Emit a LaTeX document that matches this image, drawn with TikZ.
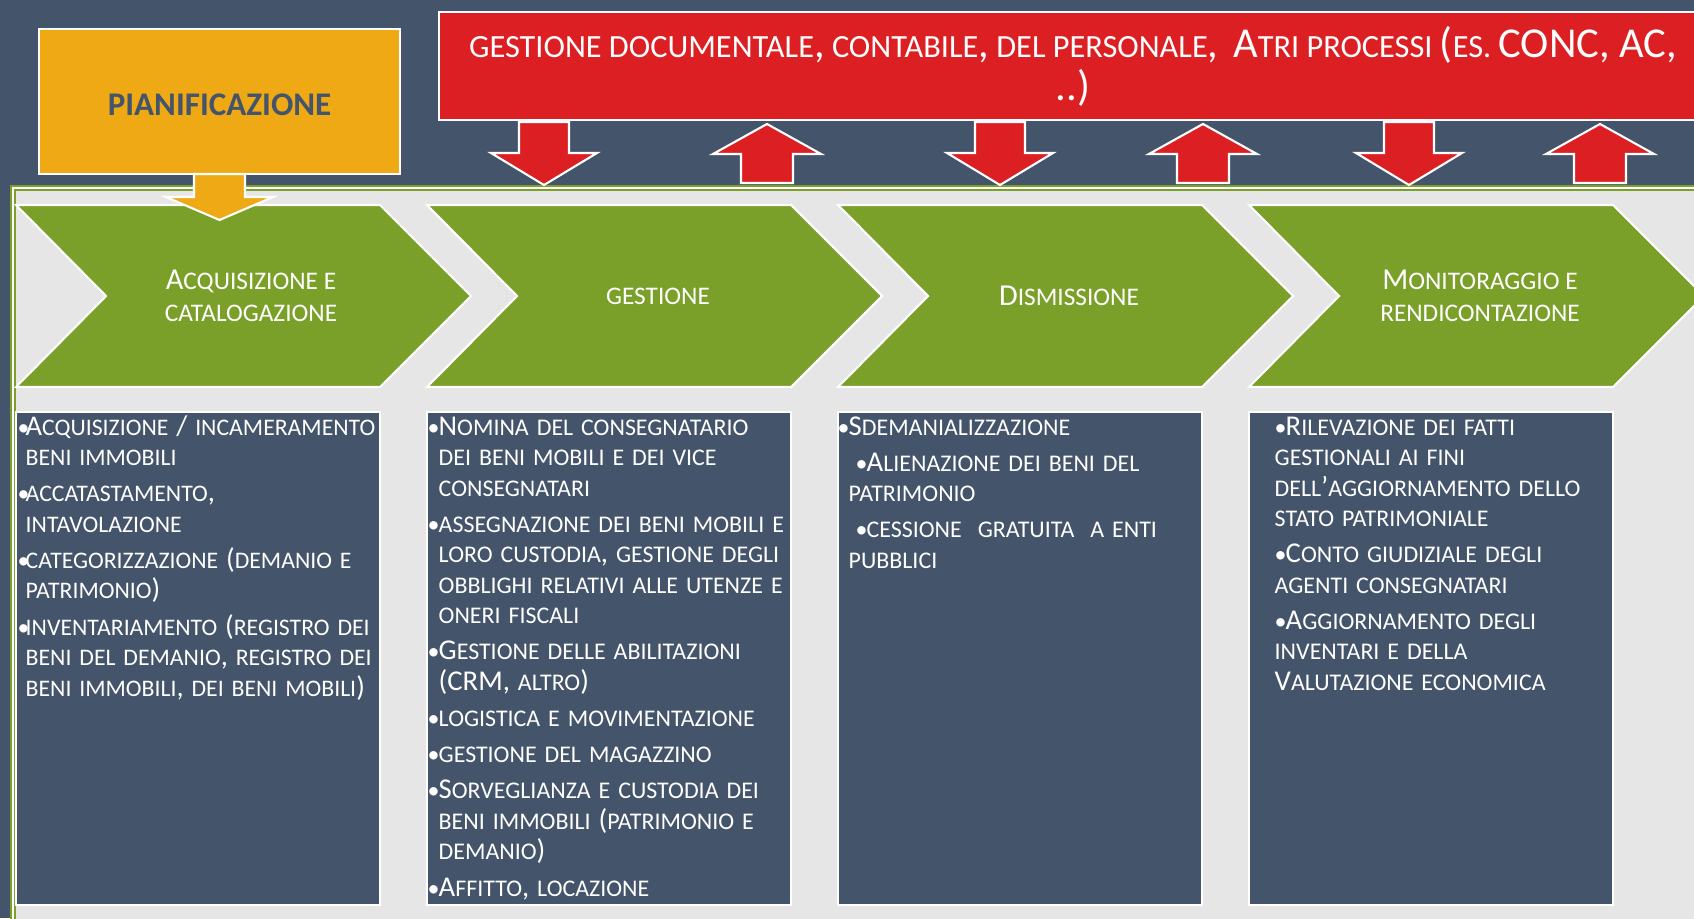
\documentclass[tikz,border=0pt]{standalone}
\usepackage{fontspec}
\setmainfont{Carlito}
\definecolor{slate}{HTML}{44546A}
\definecolor{paper}{HTML}{E7E6E6}
\definecolor{leaf}{HTML}{7AA02A}
\definecolor{amber}{HTML}{EFA915}
\definecolor{scarlet}{HTML}{DC1F22}
% big letters for the small-caps texts
\makeatletter
\newcommand\Kap[1]{{\fontsize{\fpeval{1.2*\f@size}}{\f@baselineskip}\selectfont #1}}
\newcommand\KapR[1]{{\fontsize{\fpeval{1.316*\f@size}}{\f@baselineskip}\selectfont #1}}
\makeatother
% bullets
\newlength\bw
\setlength\bw{0.11cm}
\newcommand\bul[1][0pt]{\hspace*{#1}\makebox[\bw][l]{•}}
\newcommand\itm[1][0pt]{\par\noindent\bul[#1]}
\newcommand\nl{\\\hspace*{\bw}}
\begin{document}
\begin{tikzpicture}[x=0.01cm,y=-0.01cm,
    wbord/.style={draw=white,line width=0.6pt,line join=miter},
    phase/.style={wbord,fill=leaf},
    phasetxt/.style={text=white,align=center,inner sep=0pt,font=\fontsize{7.2}{9.1}\selectfont},
    act/.style={wbord,fill=slate},
    acttxt/.style={text=white,anchor=base west,inner sep=0pt,text width=3.9cm,align=left,
        font=\fontsize{6.8}{8.68}\selectfont,execute at begin node=\setlength\parskip{1.6pt}},
    blockarrow/.style={wbord,fill=scarlet}]
    % Page
    \path[use as bounding box] (0,0) rectangle (1694,918);
    \clip (0,0) rectangle (1694,918);
    \fill[slate] (0,0) rectangle (1694,918);
    % Process frame
    \fill[paper] (13,187.5) rectangle (1720,940);
    \draw[leaf,line width=0.02cm,double=white,double distance=0.02cm] (13,940) -- (13,187.5) -- (1720,187.5);
    % Phases
    \foreach \i/\lab in {0/{\Kap{A}CQUISIZIONE E\\CATALOGAZIONE},1/{GESTIONE},2/{\Kap{D}ISMISSIONE},3/{\Kap{M}ONITORAGGIO E\\RENDICONTAZIONE}}{
        \filldraw[phase] (16+411*\i,205) -- ++(364,0) -- ++(91,91) -- ++(-91,91) -- ++(-364,0) -- ++(90,-91) -- cycle;
        \node[phasetxt] (ph\i) at ({247+411*\i+ifthenelse(\i==0,4,0)},296) {\lab};
    }
    % Activity boxes
    \foreach \i in {0,...,3}
        \filldraw[act] (16+411*\i,412) rectangle ++(364,493);
    \node[acttxt,font=\fontsize{6.75}{8.68}\selectfont] (act1) at (17,435) {\setlength\bw{0.08cm}%
        \bul\Kap{A}CQUISIZIONE \Kap{/} INCAMERAMENTO\nl BENI IMMOBILI
        \itm ACCATASTAMENTO\Kap{,}\nl INTAVOLAZIONE
        \itm CATEGORIZZAZIONE \Kap{(}DEMANIO E\nl PATRIMONIO\Kap{)}
        \itm INVENTARIAMENTO \Kap{(}REGISTRO DEI\nl BENI DEL DEMANIO\Kap{,} REGISTRO DEI\nl BENI IMMOBILI\Kap{,} DEI BENI MOBILI\Kap{)}};
    \node[acttxt] (act2) at (427,435) {\bul\Kap{N}OMINA DEL CONSEGNATARIO\nl DEI BENI MOBILI E DEI VICE\nl CONSEGNATARI
        \itm ASSEGNAZIONE DEI BENI MOBILI E\nl LORO CUSTODIA\Kap{,} GESTIONE DEGLI\nl OBBLIGHI RELATIVI ALLE UTENZE E\nl ONERI FISCALI
        \itm\Kap{G}ESTIONE DELLE ABILITAZIONI\nl\Kap{(CRM,} ALTRO\Kap{)}
        \itm LOGISTICA E MOVIMENTAZIONE
        \itm GESTIONE DEL MAGAZZINO
        \itm\Kap{S}ORVEGLIANZA E CUSTODIA DEI\nl BENI IMMOBILI \Kap{(}PATRIMONIO E\nl DEMANIO\Kap{)}
        \itm\Kap{A}FFITTO\Kap{,} LOCAZIONE};
    \node[acttxt] (act3) at (837,435) {\bul\Kap{S}DEMANIALIZZAZIONE
        \itm[0.18cm]\Kap{A}LIENAZIONE DEI BENI DEL\nl PATRIMONIO
        \itm[0.18cm]CESSIONE\ \ GRATUITA\ \ A ENTI\nl PUBBLICI};
    \node[acttxt] (act4) at (1274,435) {\bul\Kap{R}ILEVAZIONE DEI FATTI\\GESTIONALI AI FINI\\DELL\Kap{’}AGGIORNAMENTO DELLO\\STATO PATRIMONIALE
        \itm\Kap{C}ONTO GIUDIZIALE DEGLI\\AGENTI CONSEGNATARI
        \itm\Kap{A}GGIORNAMENTO DEGLI\\INVENTARI E DELLA\\\Kap{V}ALUTAZIONE ECONOMICA};
    % Other processes
    \node[wbord,fill=scarlet,minimum width=12.68cm,minimum height=1.08cm,text=white,align=center,
        font=\fontsize{9.2}{12.2}\selectfont] (docs) at (1073,66)
        {GESTIONE DOCUMENTALE\KapR{,} CONTABILE\KapR{,} DEL PERSONALE\KapR{,}\ \ \KapR{A}TRI PROCESSI \KapR{(}ES. \KapR{CONC, AC,}\\\KapR{..)}};
    \foreach \cx in {544,1000,1409}
        \filldraw[blockarrow] (\cx-25,122) -- (\cx+25,122) -- (\cx+25,153) -- (\cx+53,153) -- (\cx,185) -- (\cx-53,153) -- (\cx-25,153) -- cycle;
    \foreach \cx in {767,1203,1600}
        \filldraw[blockarrow] (\cx,124) -- (\cx+54,154) -- (\cx+26,154) -- (\cx+26,183) -- (\cx-26,183) -- (\cx-26,154) -- (\cx-54,154) -- cycle;
    % Planning
    \node[wbord,fill=amber,minimum width=3.61cm,minimum height=1.45cm,text=slate,text height=0.27cm,text depth=0pt,
        font=\bfseries\fontsize{9.4}{10}\selectfont] (plan) at (219.5,101.5) {PIANIFICAZIONE};
    \filldraw[wbord,fill=amber] (194,174) -- (245,174) -- (245,197) -- (273,197) -- (219.5,220) -- (166,197) -- (194,197) -- cycle;
\end{tikzpicture}
\end{document}
